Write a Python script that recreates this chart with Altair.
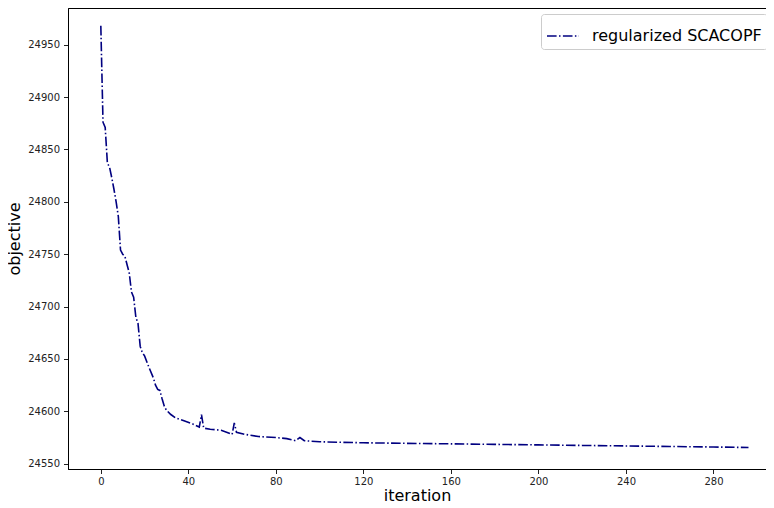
import altair as alt
import pandas as pd

iterations = [0, 1, 2, 3, 4, 5, 6, 7, 8, 9, 10, 11, 12, 13, 14, 15, 16, 17, 18, 19,
              20, 22, 24, 25, 26, 27, 28, 29, 30, 32, 34, 38, 42, 45, 46, 47, 50, 55,
              59, 60, 61, 62, 66, 72, 80, 85, 89, 91, 93, 100, 120, 140, 160, 180,
              200, 220, 240, 260, 280, 296]
objective = [24968, 24876, 24871, 24837, 24833, 24823, 24812, 24800, 24786, 24754,
             24750, 24748, 24740, 24732, 24714, 24709, 24690, 24684, 24662, 24656,
             24653, 24642, 24632, 24625, 24621, 24620, 24612, 24605, 24601, 24597,
             24594, 24591, 24588, 24585, 24597, 24584, 24583, 24582, 24579, 24578,
             24589, 24580, 24578, 24576, 24575, 24574, 24572, 24575, 24572, 24571,
             24570, 24569.5, 24569, 24568.5, 24568, 24567.5, 24567, 24566.5, 24566,
             24565.5]
series_name = "regularized SCACOPF"
x_ticks = [0, 40, 80, 120, 160, 200, 240, 280]
y_ticks = [24550, 24600, 24650, 24700, 24750, 24800, 24850, 24900, 24950]

df = pd.DataFrame({"iteration": iterations, "objective": objective,
                   "series": [series_name] * len(iterations)})

font = "DejaVu Sans"
dash = [9.6, 2.4, 1.5, 2.4]

chart = alt.Chart(df).mark_line(strokeDash=dash, strokeWidth=1.6).encode(
    x=alt.X("iteration:Q",
            scale=alt.Scale(domain=[-15, 304], nice=False, zero=False),
            axis=alt.Axis(values=x_ticks, title="iteration", titlePadding=1,
                          labelPadding=3)),
    y=alt.Y("objective:Q",
            scale=alt.Scale(domain=[24545, 24985], nice=False, zero=False),
            axis=alt.Axis(values=y_ticks, title="objective", titlePadding=5,
                          format="d")),
    color=alt.Color("series:N", scale=alt.Scale(range=["#000080"]),
                    legend=alt.Legend(title=None, orient="none",
                                      legendX=473, legendY=6,
                                      symbolType="stroke", symbolDash=dash,
                                      symbolStrokeWidth=1.6, symbolSize=1024,
                                      labelFontSize=16, labelFont=font,
                                      labelColor="#000", labelOffset=12,
                                      labelLimit=400,
                                      padding=5, strokeColor="#cccccc",
                                      fillColor="white", cornerRadius=3)),
).properties(
    width=698, height=461,
    autosize=alt.AutoSizeParams(type="none"),
    padding={"left": 60, "top": 0, "right": 0, "bottom": 33},
).configure_view(
    stroke="black", strokeWidth=1
).configure_axis(
    grid=False, domainColor="black", tickColor="#222", labelColor="#222",
    labelFont=font, labelFontSize=10, tickSize=4.5, labelPadding=4,
    titleFont=font, titleFontSize=16, titleFontWeight="normal", titleColor="#000",
)

chart.save("out.html", embed_options={"renderer": "svg", "actions": False})
